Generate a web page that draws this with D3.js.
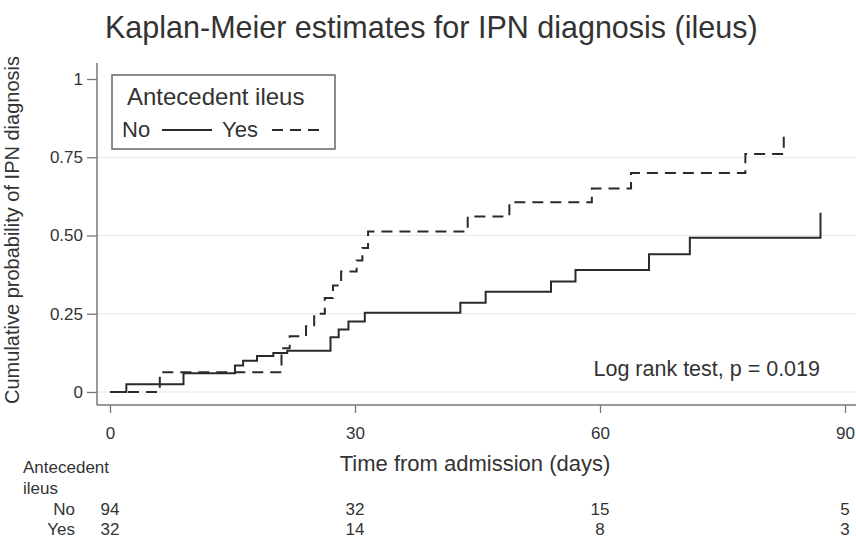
<!DOCTYPE html>
<html>
<head>
<meta charset="utf-8">
<script src="https://cdn.jsdelivr.net/npm/d3@7"></script>
<style>
  html, body { margin: 0; padding: 0; background: #fff; }
  svg { display: block; font-family: "Liberation Sans", Arial, sans-serif; }
</style>
</head>
<body>
<script>
(() => {
  // KM step estimates
  const noDays  = [0, 2, 9, 15.3, 16.3, 18, 20, 21.7, 27, 28, 29.2, 31.2, 42.9, 46, 54, 57, 66, 71, 87];
  const noProb  = [0, 0.025, 0.06, 0.085, 0.1, 0.115, 0.125, 0.132, 0.175, 0.2, 0.225, 0.253, 0.285, 0.32, 0.353, 0.39, 0.44, 0.493, 0.573];
  const yesDays = [0, 6.1, 21, 22, 24, 25, 26.3, 27.3, 28.3, 30.2, 30.9, 31.6, 43.8, 48.9, 59, 63.8, 77.8, 82.5];
  const yesProb = [0, 0.063, 0.14, 0.178, 0.21, 0.25, 0.30, 0.34, 0.385, 0.42, 0.46, 0.513, 0.561, 0.606, 0.65, 0.70, 0.76, 0.817];

  const xTicks = [0, 30, 60, 90];
  const yTicks = [0, 0.25, 0.5, 0.75, 1];
  const yTickLabels = ["0", "0.25", "0.50", "0.75", "1"];
  const gridTicks = [0, 0.25, 0.5, 0.75];

  const riskGroups = ["No", "Yes"];
  const riskNo  = [94, 32, 15, 5];
  const riskYes = [32, 14, 8, 3];

  const W = 856, H = 539;
  const ink = "#333";
  const axisCol = "#777";

  const x = d3.scaleLinear().domain([0, 90]).range([110, 845]);
  const y = d3.scaleLinear().domain([0, 1]).range([392, 79]);

  const svg = d3.select("body").append("svg")
    .attr("width", W).attr("height", H)
    .attr("viewBox", [0, 0, W, H]);

  // title
  svg.append("text")
    .attr("x", 105).attr("y", 38)
    .attr("font-size", 30.5)
    .attr("fill", ink)
    .text("Kaplan-Meier estimates for IPN diagnosis (ileus)");

  // grid
  svg.append("g")
    .selectAll("line")
    .data(gridTicks)
    .join("line")
    .attr("x1", 97).attr("x2", W)
    .attr("y1", d => y(d)).attr("y2", d => y(d))
    .attr("stroke", "#e8e8e8")
    .attr("stroke-width", 1.2);

  // y axis
  const yAxis = d3.axisLeft(y)
    .tickValues(yTicks)
    .tickFormat((d, i) => yTickLabels[i])
    .tickSize(10)
    .tickPadding(4)
    .tickSizeOuter(0);

  const gy = svg.append("g")
    .attr("transform", "translate(97,0)")
    .call(yAxis);
  gy.select(".domain").remove();
  gy.selectAll(".tick line").attr("stroke", axisCol).attr("stroke-width", 1.3);
  gy.selectAll(".tick text")
    .attr("font-size", 17)
    .attr("fill", ink)
    .attr("font-family", "Liberation Sans, Arial, sans-serif");
  gy.append("line")
    .attr("x1", 0).attr("x2", 0)
    .attr("y1", 63).attr("y2", 405)
    .attr("stroke", axisCol).attr("stroke-width", 1.5);

  // x axis
  const xAxis = d3.axisBottom(x)
    .tickValues(xTicks)
    .tickSize(8)
    .tickPadding(14)
    .tickSizeOuter(0);

  const gx = svg.append("g")
    .attr("transform", "translate(0,405)")
    .call(xAxis);
  gx.select(".domain").remove();
  gx.selectAll(".tick line").attr("stroke", axisCol).attr("stroke-width", 1.3);
  gx.selectAll(".tick text")
    .attr("font-size", 17)
    .attr("fill", ink)
    .attr("font-family", "Liberation Sans, Arial, sans-serif");
  gx.append("line")
    .attr("x1", 97).attr("x2", W)
    .attr("y1", 0).attr("y2", 0)
    .attr("stroke", axisCol).attr("stroke-width", 1.5);

  // axis titles
  svg.append("text")
    .attr("transform", "translate(19,230) rotate(-90)")
    .attr("text-anchor", "middle")
    .attr("font-size", 20)
    .attr("fill", ink)
    .text("Cumulative probability of IPN diagnosis");

  svg.append("text")
    .attr("x", 475).attr("y", 471)
    .attr("text-anchor", "middle")
    .attr("font-size", 22)
    .attr("fill", ink)
    .text("Time from admission (days)");

  // curves
  const line = d3.line()
    .curve(d3.curveStepAfter)
    .x(d => x(d[0]))
    .y(d => y(d[1]));

  const noPts  = noDays.map((d, i) => [d, noProb[i]]);
  const yesPts = yesDays.map((d, i) => [d, yesProb[i]]);

  svg.append("path")
    .datum(noPts)
    .attr("d", line)
    .attr("fill", "none")
    .attr("stroke", "#2a2a2a")
    .attr("stroke-width", 2);

  svg.append("path")
    .datum(yesPts)
    .attr("d", line)
    .attr("fill", "none")
    .attr("stroke", "#2a2a2a")
    .attr("stroke-width", 2)
    .attr("stroke-dasharray", "11,7");

  // log rank note
  svg.append("text")
    .attr("x", 820).attr("y", 376)
    .attr("text-anchor", "end")
    .attr("font-size", 21.5)
    .attr("fill", ink)
    .text("Log rank test, p = 0.019");

  // legend
  const lg = svg.append("g");
  lg.append("rect")
    .attr("x", 112).attr("y", 75)
    .attr("width", 223).attr("height", 74)
    .attr("fill", "#fff")
    .attr("stroke", "#666")
    .attr("stroke-width", 1.5);
  lg.append("text")
    .attr("x", 127).attr("y", 105)
    .attr("font-size", 24)
    .attr("fill", ink)
    .text("Antecedent ileus");
  lg.append("text")
    .attr("x", 122).attr("y", 137)
    .attr("font-size", 22)
    .attr("fill", ink)
    .text("No");
  lg.append("line")
    .attr("x1", 162).attr("x2", 212)
    .attr("y1", 130).attr("y2", 130)
    .attr("stroke", "#2a2a2a").attr("stroke-width", 2);
  lg.append("text")
    .attr("x", 222).attr("y", 137)
    .attr("font-size", 22)
    .attr("fill", ink)
    .text("Yes");
  lg.append("line")
    .attr("x1", 272).attr("x2", 323)
    .attr("y1", 130).attr("y2", 130)
    .attr("stroke", "#2a2a2a").attr("stroke-width", 2)
    .attr("stroke-dasharray", "11,7");

  // number at risk table
  const rt = svg.append("g")
    .attr("font-size", 17)
    .attr("fill", ink);
  rt.append("text").attr("x", 23).attr("y", 473).text("Antecedent");
  rt.append("text").attr("x", 23).attr("y", 494).text("ileus");

  const rowY = [515, 535];
  const rows = [riskNo, riskYes];

  rt.selectAll("text.grp")
    .data(riskGroups)
    .join("text")
    .attr("class", "grp")
    .attr("x", 75)
    .attr("y", (d, i) => rowY[i])
    .attr("text-anchor", "end")
    .text(d => d);

  rows.forEach((vals, r) => {
    rt.append("g")
      .selectAll("text")
      .data(vals)
      .join("text")
      .attr("x", (d, i) => x(xTicks[i]))
      .attr("y", rowY[r])
      .attr("text-anchor", "middle")
      .text(d => d);
  });
})();
</script>
</body>
</html>
